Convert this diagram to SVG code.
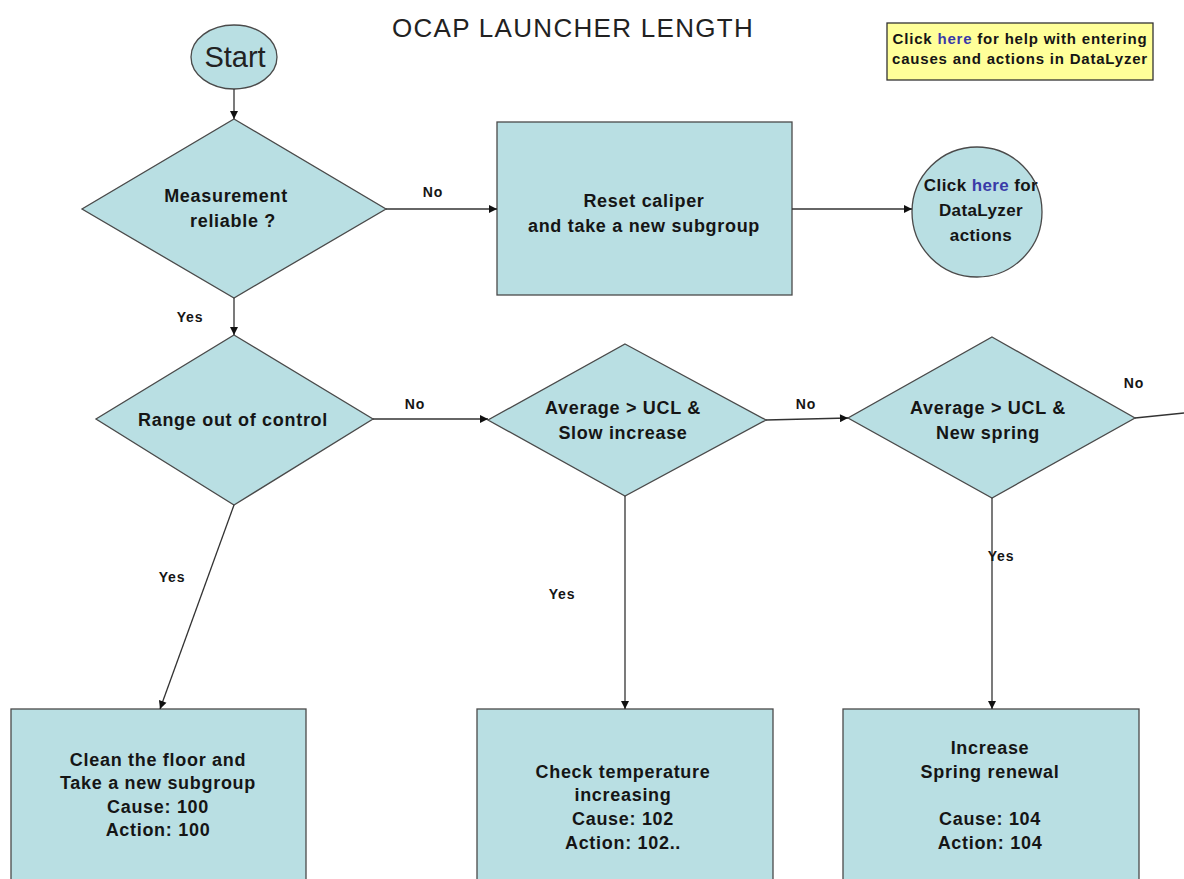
<svg xmlns="http://www.w3.org/2000/svg" width="1184" height="879" viewBox="0 0 1184 879">
<style>
.shape{fill:#B9DFE3;stroke:#4a4a4a;stroke-width:1.3}
.t{font-family:"Liberation Sans",Arial,sans-serif;font-weight:bold;font-size:18px;letter-spacing:0.7px;fill:#151515;text-anchor:middle}
.lbl{font-family:"Liberation Sans",Arial,sans-serif;font-weight:bold;font-size:14px;letter-spacing:0.8px;fill:#151515;text-anchor:middle}
.link{fill:#3a3aa8}
.edge{stroke:#333;stroke-width:1.3;fill:none}
</style>
<defs>
<marker id="arr" viewBox="0 0 10 10" refX="10" refY="5" markerWidth="10" markerHeight="8" markerUnits="userSpaceOnUse" orient="auto">
<path d="M0,0 L10,5 L0,10 z" fill="#111"/>
</marker>
</defs>
<rect width="1184" height="879" fill="#ffffff"/>
<text x="573" y="37" font-family="'Liberation Sans',Arial,sans-serif" font-size="26" letter-spacing="1.3" fill="#222" text-anchor="middle">OCAP LAUNCHER LENGTH</text>

<g id="help">
<rect x="887" y="23" width="266" height="57" fill="#FFFF99" stroke="#333" stroke-width="1.3"/>
<text class="t" x="1020" y="44" style="font-size:15px;letter-spacing:0.8px">Click <tspan class="link">here</tspan> for help with entering</text>
<text class="t" x="1020" y="64" style="font-size:15px;letter-spacing:0.8px">causes and actions in DataLyzer</text>
</g>

<g id="start">
<ellipse class="shape" cx="234" cy="57" rx="43" ry="32"/>
<text x="235" y="67" font-family="'Liberation Sans',Arial,sans-serif" font-size="29" fill="#222" text-anchor="middle">Start</text>
</g>

<g id="d1">
<polygon class="shape" points="234,119 386,209 234,298 82,209"/>
<text class="t" x="226" y="202">Measurement</text>
<text class="t" x="233" y="227">reliable ?</text>
</g>

<g id="reset">
<rect class="shape" x="497" y="122" width="295" height="173"/>
<text class="t" x="644" y="207">Reset caliper</text>
<text class="t" x="644" y="232">and take a new subgroup</text>
</g>

<g id="actions">
<circle class="shape" cx="977" cy="212" r="65"/>
<text class="t" x="981" y="191" style="font-size:17px;letter-spacing:0.4px">Click <tspan class="link">here</tspan> for</text>
<text class="t" x="981" y="216" style="font-size:17px;letter-spacing:0.4px">DataLyzer</text>
<text class="t" x="981" y="241" style="font-size:17px;letter-spacing:0.4px">actions</text>
</g>

<g id="d2">
<polygon class="shape" points="234,335 373,419 234,505 96,419"/>
<text class="t" x="233" y="426">Range out of control</text>
</g>

<g id="d3">
<polygon class="shape" points="625,344 766,420 625,496 488,420"/>
<text class="t" x="623" y="414">Average &gt; UCL &amp;</text>
<text class="t" x="623" y="439">Slow increase</text>
</g>

<g id="d4">
<polygon class="shape" points="992,337 1135,418 992,498 848,418"/>
<text class="t" x="988" y="414">Average &gt; UCL &amp;</text>
<text class="t" x="988" y="439">New spring</text>
</g>

<g id="r1">
<rect class="shape" x="11" y="709" width="295" height="190"/>
<text class="t" x="158" y="766">Clean the floor and</text>
<text class="t" x="158" y="789">Take a new subgroup</text>
<text class="t" x="158" y="813">Cause: 100</text>
<text class="t" x="158" y="836">Action: 100</text>
</g>

<g id="r2">
<rect class="shape" x="477" y="709" width="296" height="190"/>
<text class="t" x="623" y="778">Check temperature</text>
<text class="t" x="623" y="801">increasing</text>
<text class="t" x="623" y="825">Cause: 102</text>
<text class="t" x="623" y="849">Action: 102..</text>
</g>

<g id="r3">
<rect class="shape" x="843" y="709" width="296" height="190"/>
<text class="t" x="990" y="754">Increase</text>
<text class="t" x="990" y="778">Spring renewal</text>
<text class="t" x="990" y="825">Cause: 104</text>
<text class="t" x="990" y="849">Action: 104</text>
</g>

<g id="connectors">
<line class="edge" x1="234" y1="89" x2="234" y2="119" marker-end="url(#arr)"/>
<line class="edge" x1="386" y1="209" x2="497" y2="209" marker-end="url(#arr)"/>
<line class="edge" x1="792" y1="209" x2="912" y2="209" marker-end="url(#arr)"/>
<line class="edge" x1="234" y1="298" x2="234" y2="335" marker-end="url(#arr)"/>
<line class="edge" x1="373" y1="419" x2="488" y2="419" marker-end="url(#arr)"/>
<line class="edge" x1="766" y1="420" x2="848" y2="418" marker-end="url(#arr)"/>
<line class="edge" x1="1135" y1="418" x2="1184" y2="413"/>
<line class="edge" x1="234" y1="505" x2="160" y2="709" marker-end="url(#arr)"/>
<line class="edge" x1="625" y1="496" x2="625" y2="709" marker-end="url(#arr)"/>
<line class="edge" x1="992" y1="498" x2="992" y2="709" marker-end="url(#arr)"/>
<text class="lbl" x="433" y="197">No</text>
<text class="lbl" x="415" y="409">No</text>
<text class="lbl" x="806" y="409">No</text>
<text class="lbl" x="1134" y="388">No</text>
<text class="lbl" x="190" y="322">Yes</text>
<text class="lbl" x="172" y="582">Yes</text>
<text class="lbl" x="562" y="599">Yes</text>
<text class="lbl" x="1001" y="561">Yes</text>
</g>
</svg>
